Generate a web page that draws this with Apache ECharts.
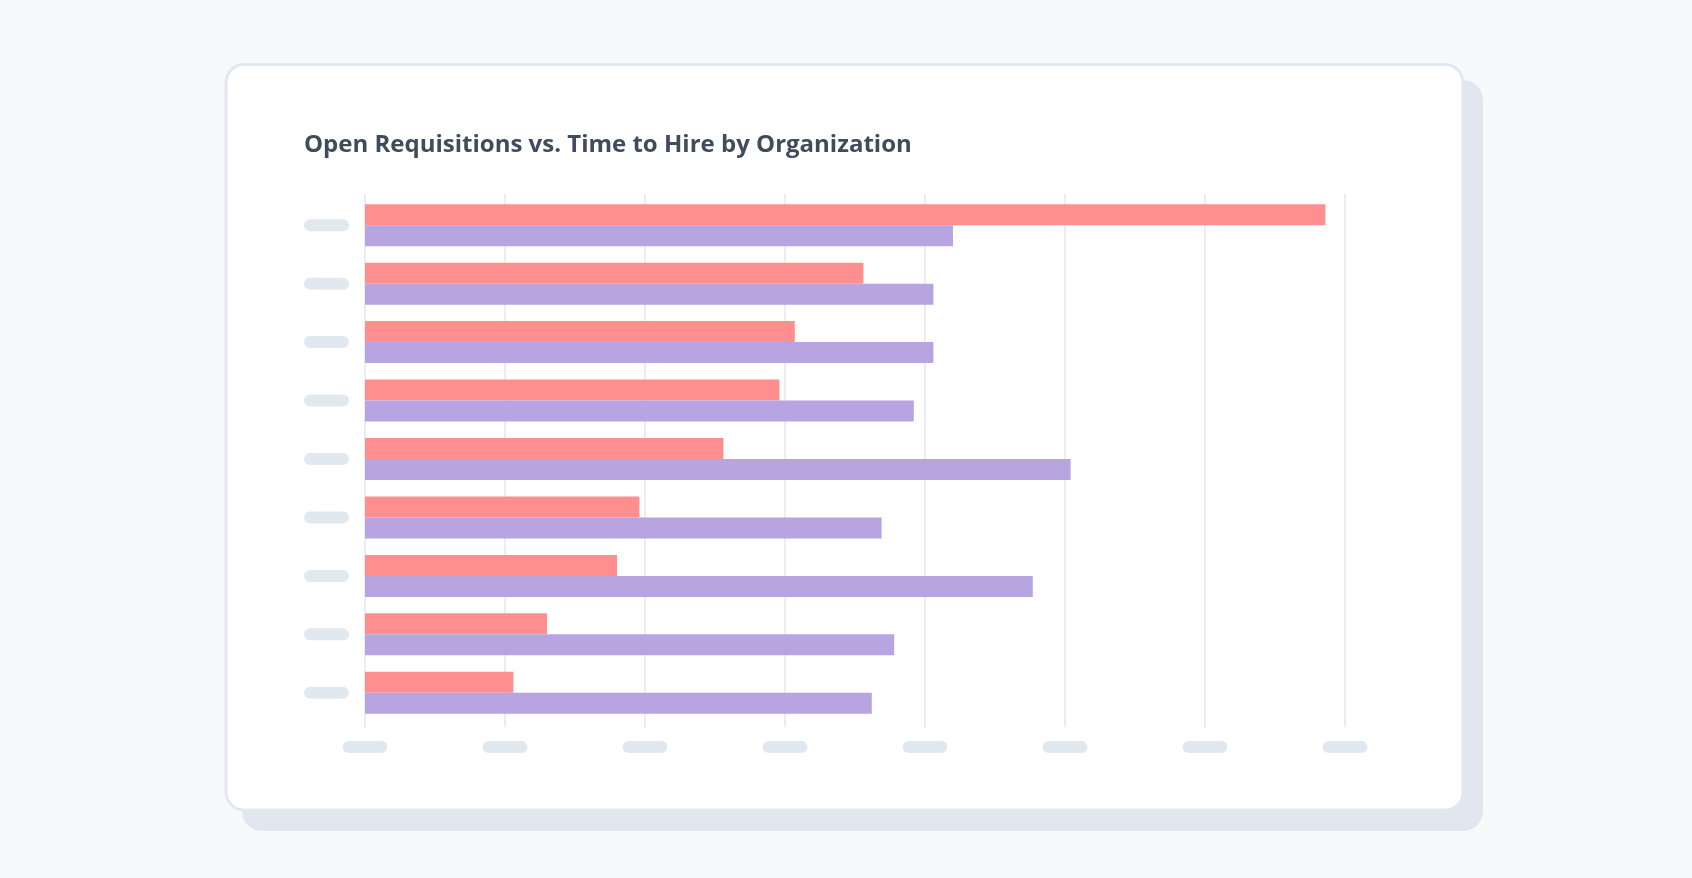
<!DOCTYPE html>
<html>
<head>
<meta charset="utf-8">
<script src="https://cdn.jsdelivr.net/npm/echarts@6/dist/echarts.min.js"></script>
<style>
  html, body { margin: 0; padding: 0; background: #f8f9fb; }
  #chart { width: 1692px; height: 878px; }
</style>
</head>
<body>
<div id="chart"></div>
<script>
// ---- data ----
const titleText = 'Open Requisitions vs. Time to Hire by Organization';
const categories = ['Org 1', 'Org 2', 'Org 3', 'Org 4', 'Org 5', 'Org 6', 'Org 7', 'Org 8', 'Org 9'];
const openRequisitions = [68.6, 35.6, 30.7, 29.6, 25.6, 19.6, 18.0, 13.0, 10.6];
const timeToHire = [42.0, 40.6, 40.6, 39.2, 50.4, 36.9, 47.7, 37.8, 36.2];
const xMin = 0, xMax = 70, xInterval = 10;

const chart = echarts.init(document.getElementById('chart'), null, { renderer: 'canvas' });

const pill = { width: 45, height: 12, backgroundColor: '#e2e8f0', borderRadius: 6 };

chart.setOption({
  backgroundColor: '#f8f9fb',
  animation: false,
  graphic: [
    { type: 'rect', z: -10, shape: { x: 242, y: 80, width: 1241, height: 751, r: 20 },
      style: { fill: '#e2e7ef' } },
    { type: 'rect', z: -9, shape: { x: 226, y: 64.5, width: 1237, height: 745.5, r: 18 },
      style: { fill: '#ffffff', stroke: '#e2e8f0', lineWidth: 3 } }
  ],
  title: {
    text: titleText,
    left: 304,
    top: 133,
    padding: 0,
    textStyle: { fontFamily: 'Open Sans', fontWeight: 700, fontSize: 24, color: '#404b5b' }
  },
  grid: [
    { left: 365, width: 980, top: 194, height: 533 },
    { left: 365, width: 980, top: 196, height: 526 }
  ],
  xAxis: [
    {
      gridIndex: 0, type: 'value', min: xMin, max: xMax, interval: xInterval,
      axisLine: { show: false }, axisTick: { show: false },
      splitLine: { show: true, lineStyle: { color: '#e4e7ed', width: 1.5 } },
      axisLabel: { margin: 14, formatter: () => '{p| }', rich: { p: pill } }
    },
    {
      gridIndex: 1, type: 'value', min: xMin, max: xMax, interval: xInterval, show: false
    }
  ],
  yAxis: [
    { gridIndex: 0, type: 'value', min: 0, max: 1, show: false },
    {
      gridIndex: 1, type: 'category', data: categories, inverse: true,
      axisLine: { show: false }, axisTick: { show: false },
      splitLine: { show: false },
      axisLabel: { margin: 16, formatter: () => '{p| }', rich: { p: pill } }
    }
  ],
  series: [
    {
      name: 'Open Requisitions', type: 'bar', xAxisIndex: 1, yAxisIndex: 1,
      data: openRequisitions, barWidth: 21, barGap: '0%',
      itemStyle: { color: '#ff8f8f' }
    },
    {
      name: 'Time to Hire', type: 'bar', xAxisIndex: 1, yAxisIndex: 1,
      data: timeToHire, barWidth: 21, barGap: '0%',
      itemStyle: { color: '#b8a4e0' }
    }
  ]
});
</script>
</body>
</html>
